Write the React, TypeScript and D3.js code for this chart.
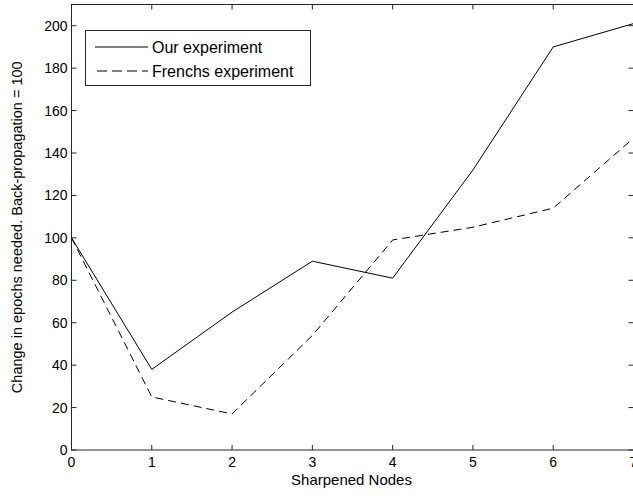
import React from "react";
import * as d3 from "d3";

const nodes = [0, 1, 2, 3, 4, 5, 6, 7];
const ourExperiment = [100, 38, 65, 89, 81, 132, 190, 201];
const frenchExperiment = [100, 25, 17, 54, 99, 105, 114, 147];
const yTicks = [0, 20, 40, 60, 80, 100, 120, 140, 160, 180, 200];
const seriesNames = ["Our experiment", "Frenchs experiment"];

const W = 633;
const H = 497;
const M = { left: 71.5, right: 633.5, top: 4.5, bottom: 450 };
const FONT = "'Liberation Sans', Arial, Helvetica, sans-serif";

export default function App() {
  const x = d3.scaleLinear().domain([0, 7]).range([M.left, M.right]);
  const y = d3.scaleLinear().domain([0, 210]).range([M.bottom, M.top]);
  const line = d3
    .line<number>()
    .x((_, i) => x(nodes[i]))
    .y((d) => y(d));
  const tl = 5;
  const axisColor = "#262626";
  return (
    <svg
      width={W}
      height={H}
      style={{ position: "absolute", left: 0, top: 0, background: "#fff" }}
      fontFamily={FONT}
    >
      <rect x={0} y={0} width={W} height={H} fill="#fff" />
      <path d={line(ourExperiment) || ""} fill="none" stroke="#000" strokeWidth={1} />
      <path
        d={line(frenchExperiment) || ""}
        fill="none"
        stroke="#000"
        strokeWidth={1}
        strokeDasharray="8,5"
      />
      <rect
        x={M.left}
        y={M.top}
        width={M.right - M.left}
        height={M.bottom - M.top}
        fill="none"
        stroke={axisColor}
        strokeWidth={1}
      />
      {nodes.map((n) => (
        <g key={"x" + n}>
          <line x1={x(n)} x2={x(n)} y1={M.bottom} y2={M.bottom - tl} stroke={axisColor} />
          <line x1={x(n)} x2={x(n)} y1={M.top} y2={M.top + tl} stroke={axisColor} />
          <text x={x(n)} y={M.bottom + 17} textAnchor="middle" fontSize={14} fill="#000">
            {n}
          </text>
        </g>
      ))}
      {yTicks.map((t) => (
        <g key={"y" + t}>
          <line x1={M.left} x2={M.left + tl} y1={y(t)} y2={y(t)} stroke={axisColor} />
          <line x1={M.right} x2={M.right - tl} y1={y(t)} y2={y(t)} stroke={axisColor} />
          <text x={M.left - 4} y={y(t) + 5} textAnchor="end" fontSize={14} fill="#000">
            {t}
          </text>
        </g>
      ))}
      <text x={(M.left + M.right) / 2 - 1} y={485} textAnchor="middle" fontSize={15} fill="#000">
        Sharpened Nodes
      </text>
      <text
        transform={`translate(22,${(M.top + M.bottom) / 2}) rotate(-90)`}
        textAnchor="middle"
        fontSize={14.5}
        fill="#000"
      >
        Change in epochs needed. Back-propagation = 100
      </text>
      <g>
        <rect x={85.5} y={30.5} width={225} height={55} fill="#fff" stroke={axisColor} />
        <line x1={95} x2={148} y1={47} y2={47} stroke="#000" />
        <text x={152} y={52.5} fontSize={16} fill="#000">
          {seriesNames[0]}
        </text>
        <line x1={95} x2={148} y1={71} y2={71} stroke="#000" strokeDasharray="10,5" strokeDashoffset={-2} />
        <text x={152} y={76.5} fontSize={16} fill="#000">
          {seriesNames[1]}
        </text>
      </g>
    </svg>
  );
}
